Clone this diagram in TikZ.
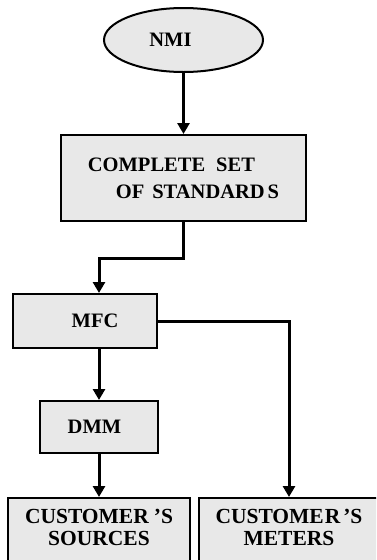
\documentclass[tikz,border=0pt]{standalone}
\usepackage{fontspec}
\setmainfont{Liberation Serif}
\usepackage{xcolor}
\usepackage{tikz}
\usetikzlibrary{positioning,arrows.meta,calc,shapes.geometric}
\definecolor{boxgray}{HTML}{E8E8E8}

\begin{document}
\begin{tikzpicture}[x=1pt,y=-1pt,
    box/.style={draw=black,line width=2pt,fill=boxgray,inner sep=0pt,
      font=\fontsize{20.5}{22}\selectfont\bfseries},
    endbox/.style={box,anchor=north,inner ysep=11pt,align=center,
      font=\fontsize{21.5}{22}\selectfont\bfseries},
    link/.style={line width=3pt,-{Triangle[width=12pt,length=11pt]}}]
  \useasboundingbox (0,0) rectangle (376,560);
  \clip (0,0) rectangle (376,560);
  \node[box,ellipse,minimum width=159pt,minimum height=64pt] (nmi) at (183.5,40) {NMI\hspace*{26pt}};
  \node[box,minimum width=245pt,minimum height=86pt,align=left,
        font=\fontsize{20.5}{27}\selectfont\bfseries] (sets) at (183.5,178)
        {COMPLETE\hspace{11pt}SET\\\hspace*{28pt}OF\hspace{8pt}STANDARD\hspace{3pt}S};
  \node[box,minimum width=144pt,minimum height=54pt] (mfc) at (85,321) {\hspace*{20pt}MFC};
  \node[box,minimum width=118pt,minimum height=52pt] (dmm) at (99,427) {DMM\hspace*{9pt}};
  \node[endbox,minimum width=182pt] (src) at (99,497)
        {CUSTOMER\hspace{5pt}'S\\SOURCES\\\rule{0pt}{40pt}};
  \node[endbox,minimum width=180pt] (mtr) at (289,497)
        {CUSTOME\hspace{1pt}R\hspace{3pt}'S\\METERS\\\rule{0pt}{40pt}};
  \draw[link] (nmi.south) -- (sets.north);
  \draw[link] (sets.south) -- ++(0,36) -| (mfc.north -| dmm.north);
  \draw[link] (mfc.south -| dmm.north) -- (dmm.north);
  \draw[link] (dmm.south) -- (src.north);
  \draw[link] (mfc.east) -| (mtr.north);
\end{tikzpicture}
\end{document}
